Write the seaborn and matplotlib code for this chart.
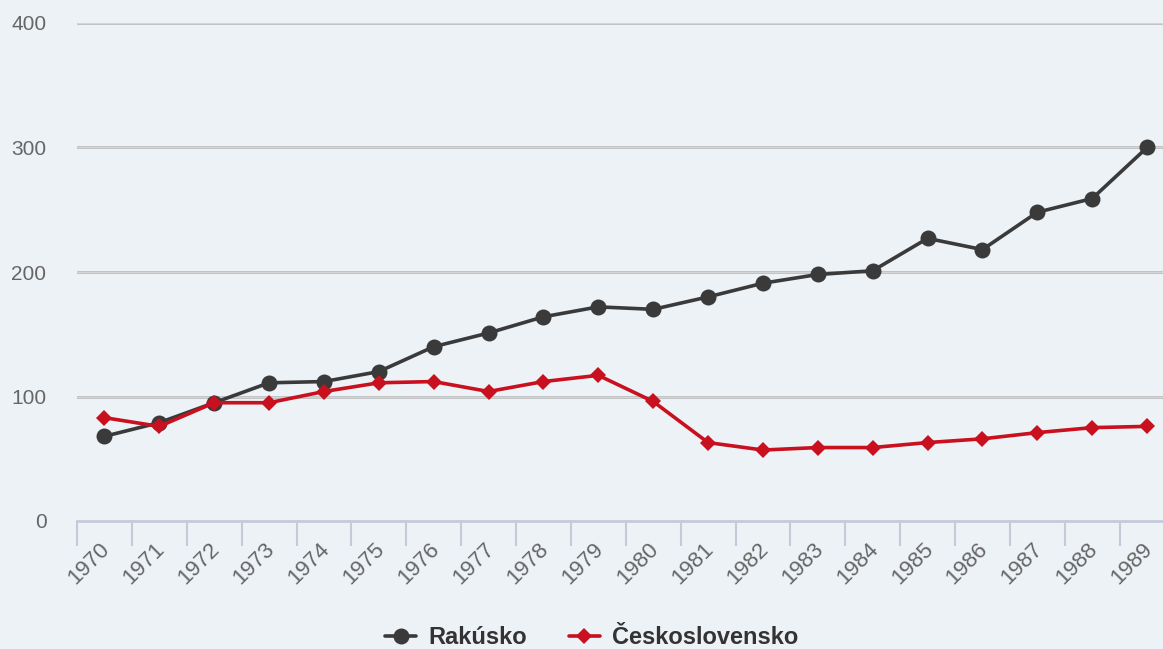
import matplotlib
matplotlib.use("Agg")
import matplotlib.pyplot as plt
import matplotlib.transforms as mtransforms
from matplotlib.ticker import FixedLocator
import seaborn as sns
import pandas as pd

years = list(range(1970, 1990))
rakusko = [68, 79, 95, 111, 112, 120, 140, 151, 164, 172,
           170, 180, 191, 198, 201, 227, 218, 248, 259, 300]
ceskoslovensko = [83, 76, 95, 95, 104, 111, 112, 104, 112, 117,
                  96, 63, 57, 59, 59, 63, 66, 71, 75, 76]
series_names = ["Rakúsko", "Československo"]
y_ticks = [0, 100, 200, 300, 400]

df = pd.DataFrame({
    "rok": years * 2,
    "hodnota": rakusko + ceskoslovensko,
    "krajina": [series_names[0]] * len(years) + [series_names[1]] * len(years),
})

bg = "#edf2f7"
sns.set_theme(style="white")
plt.rcParams["font.family"] = ["Liberation Sans", "DejaVu Sans"]

fig = plt.figure(figsize=(11.63, 6.49), dpi=100, facecolor=bg)
ax = fig.add_axes([77 / 1163, 128 / 649, (1174.5 - 77) / 1163, (521 - 23) / 649])
ax.set_facecolor(bg)

palette = {series_names[0]: "#3a3a3a", series_names[1]: "#c8101f"}
markers = {series_names[0]: "o", series_names[1]: "D"}
sizes = {series_names[0]: 11.5, series_names[1]: 8.5}

for name in series_names:
    sub = df[df["krajina"] == name]
    sns.lineplot(data=sub, x="rok", y="hodnota", ax=ax, color=palette[name],
                 marker=markers[name], markersize=sizes[name],
                 markeredgewidth=0, linewidth=2.6, label=name, zorder=3)

ax.set_xlim(1969.5, 1989.5)
ax.set_ylim(0, 400)
ax.set_xlabel("")
ax.set_ylabel("")

# horizontal grid lines
for v in y_ticks[1:]:
    ax.axhline(v, color="#b4b4b4", linewidth=1.8, zorder=1)
    ax.axhline(v, color="#dcdcdc", linewidth=0.6, zorder=1)

for s in ["top", "right", "left"]:
    ax.spines[s].set_visible(False)
ax.spines["bottom"].set_color("#c3cbdb")
ax.spines["bottom"].set_linewidth(2)
ax.spines["bottom"].set_zorder(2)

ax.set_yticks(y_ticks)
ax.set_yticklabels([str(v) for v in y_ticks], fontsize=15, color="#666666")
ax.tick_params(axis="y", length=0, pad=22)

ax.set_xticks(years)
ax.set_xticklabels([str(y) for y in years], rotation=45, ha="right",
                   rotation_mode="anchor", fontsize=16, color="#666666")
ax.tick_params(axis="x", which="major", length=0, pad=13)
shift = mtransforms.ScaledTranslation(-5 / 100, 0, fig.dpi_scale_trans)
for lbl in ax.get_xticklabels():
    lbl.set_transform(lbl.get_transform() + shift)
ax.xaxis.set_minor_locator(FixedLocator([y - 0.5 for y in years] + [1989.5]))
ax.tick_params(axis="x", which="minor", bottom=True, length=18, width=1.5,
               color="#c3cbdb", direction="out")

ax.get_legend().remove()
handles, labels = ax.get_legend_handles_labels()
leg = fig.legend(handles, labels, loc="lower center", bbox_to_anchor=(0.509, -0.033),
                 ncol=2, frameon=False, handlelength=1.3, handletextpad=0.55,
                 columnspacing=1.75, prop={"weight": "bold", "size": 17})
for t in leg.get_texts():
    t.set_color("#333333")

fig.savefig("out.png", dpi=100, facecolor=bg)
